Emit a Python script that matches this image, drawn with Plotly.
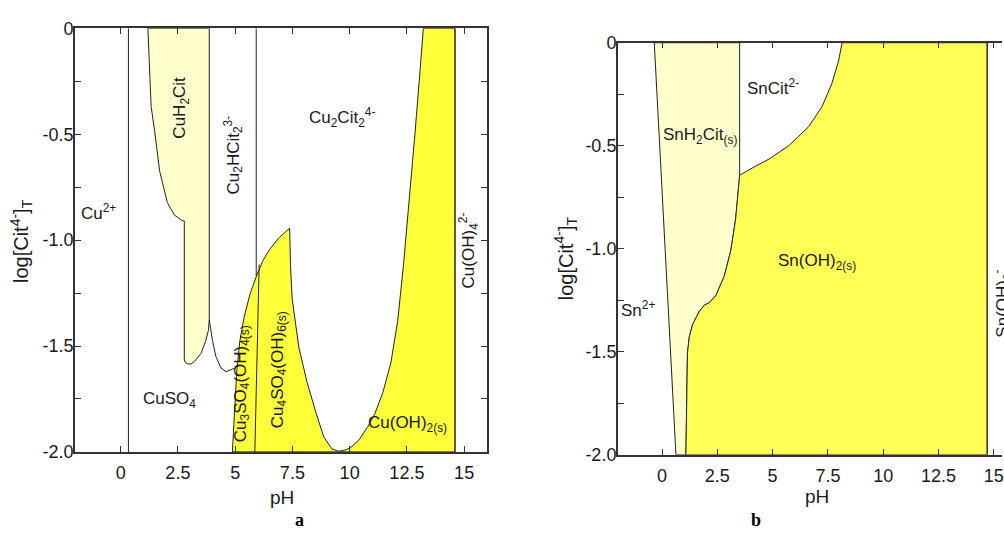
import plotly.graph_objects as go

# ---------------- Panel a : Cu - citrate - sulfate ----------------
a_cu_vline_ph = 0.34                      # Cu2+ / CuSO4 boundary
a_cuh2cit_left_ph = [1.19, 1.25, 1.33, 1.48, 1.70, 2.04, 2.35, 2.70, 2.78, 2.78]
a_cuh2cit_left_log = [0.0, -0.141, -0.368, -0.482, -0.673, -0.823, -0.882, -0.909, -0.909, -1.564]
a_cuh2cit_bottom_ph = [2.82, 2.92, 3.07, 3.22, 3.51, 3.72, 3.83, 3.87]
a_cuh2cit_bottom_log = [-1.577, -1.584, -1.585, -1.573, -1.535, -1.474, -1.427, -1.376]
a_cuh2cit_right_ph = 3.87
a_u_ph = [3.87, 4.01, 4.16, 4.38, 4.60, 4.81, 4.98, 5.10]
a_u_log = [-1.376, -1.474, -1.55, -1.603, -1.621, -1.614, -1.605, -1.588]
a_bump_left_ph = [4.88, 4.93, 5.00, 5.07, 5.20, 5.40, 5.65, 5.93, 6.20, 6.50, 6.90, 7.38]
a_bump_left_log = [-2.0, -1.88, -1.75, -1.62, -1.48, -1.36, -1.255, -1.17, -1.10, -1.045, -0.99, -0.944]
a_cuoh2_ph = [7.38, 7.42, 7.49, 7.78, 8.14, 8.51, 8.87, 9.23, 9.52, 9.85, 9.95, 10.05,
              10.40, 10.80, 11.10, 11.45, 11.80, 12.10, 12.35, 12.60, 12.85, 13.06, 13.22]
a_cuoh2_log = [-0.944, -1.126, -1.277, -1.505, -1.671, -1.808, -1.929, -1.986, -1.997, -1.99, -1.985, -1.978,
               -1.945, -1.88, -1.82, -1.72, -1.58, -1.38, -1.12, -0.82, -0.50, -0.22, 0.0]
a_cu2hcit_vline_ph = 5.92
a_cu2hcit_vline_log = [0.0, -1.17]
a_divider_ph = [6.05, 5.86]
a_divider_log = [-1.115, -2.0]
a_cuoh4_vline_ph = 14.6

# ---------------- Panel b : Sn - citrate ----------------
b_sn_left_ph = [-0.35, 0.63]
b_sn_left_log = [0.0, -2.0]
b_snoh2_ph = [1.08, 1.11, 1.13, 1.15, 1.23, 1.38, 1.68, 1.91, 2.13, 2.43, 2.81, 3.11, 3.33, 3.51]
b_snoh2_log = [-2.0, -1.788, -1.631, -1.508, -1.430, -1.368, -1.305, -1.274, -1.262, -1.228, -1.134, -1.009, -0.854, -0.643]
b_sncit_ph = [3.51, 4.16, 4.83, 5.73, 6.63, 7.22, 7.67, 7.98, 8.14]
b_sncit_log = [-0.643, -0.603, -0.565, -0.50, -0.407, -0.313, -0.201, -0.089, 0.0]
b_snh2cit_right_ph = 3.51
b_snoh3_vline_ph = 14.7

# axis ticks
x_tickvals = [0, 2.5, 5, 7.5, 10, 12.5, 15]
x_ticktext = ['0', '2.5', '5', '7.5', '10', '12.5', '15']
y_tickvals = [0, -0.25, -0.5, -0.75, -1.0, -1.25, -1.5, -1.75, -2.0]
y_ticktext = ['0', '', '-0.5', '', '-1.0', '', '-1.5', '', '-2.0']
YTOP, YBOT = 0.0, -2.0

LIGHT = '#FFFFCC'
YEL_A = '#FFFF3A'
YEL_B = '#FFFF55'
LINE = dict(color='#222222', width=1)
FONT = 'Liberation Sans, Arial, sans-serif'

fig = go.Figure()


def poly(xs, ys, fill, xa, ya):
    fig.add_trace(go.Scatter(x=xs, y=ys, mode='lines', fill='toself', fillcolor=fill,
                             line=LINE, xaxis=xa, yaxis=ya, hoverinfo='skip'))


def line(xs, ys, xa, ya):
    fig.add_trace(go.Scatter(x=xs, y=ys, mode='lines', line=LINE, xaxis=xa, yaxis=ya, hoverinfo='skip'))


# ---- panel a shapes
px = a_cuh2cit_left_ph + a_cuh2cit_bottom_ph + [a_cuh2cit_right_ph, a_cuh2cit_left_ph[0]]
py = a_cuh2cit_left_log + a_cuh2cit_bottom_log + [YTOP, YTOP]
poly(px, py, LIGHT, 'x', 'y')

px = a_bump_left_ph + a_cuoh2_ph[1:] + [a_cuoh4_vline_ph, a_cuoh4_vline_ph, a_bump_left_ph[0]]
py = a_bump_left_log + a_cuoh2_log[1:] + [YTOP, YBOT, YBOT]
poly(px, py, YEL_A, 'x', 'y')

line([a_cu_vline_ph, a_cu_vline_ph], [YTOP, YBOT], 'x', 'y')
line(a_u_ph, a_u_log, 'x', 'y')
line([a_cu2hcit_vline_ph, a_cu2hcit_vline_ph], a_cu2hcit_vline_log, 'x', 'y')
line(a_divider_ph, a_divider_log, 'x', 'y')
line([a_cuoh4_vline_ph, a_cuoh4_vline_ph], [YTOP, YBOT], 'x', 'y')

# ---- panel b shapes
px = b_sn_left_ph + b_snoh2_ph + [b_snh2cit_right_ph, b_sn_left_ph[0]]
py = b_sn_left_log + b_snoh2_log + [YTOP, YTOP]
poly(px, py, LIGHT, 'x2', 'y2')

px = b_snoh2_ph + b_sncit_ph[1:] + [b_snoh3_vline_ph, b_snoh3_vline_ph, b_snoh2_ph[0]]
py = b_snoh2_log + b_sncit_log[1:] + [YTOP, YBOT, YBOT]
poly(px, py, YEL_B, 'x2', 'y2')

line([b_snoh3_vline_ph, b_snoh3_vline_ph], [YTOP, YBOT], 'x2', 'y2')

axis_common = dict(showgrid=False, zeroline=False, showline=True, linecolor='#333333', linewidth=1.5,
                   ticks='inside', ticklen=6, tickwidth=1.2, tickcolor='#333333',
                   tickfont=dict(family=FONT, size=18, color='#1a1a1a'))

fig.update_layout(
    width=1004, height=538, margin=dict(l=0, r=0, t=0, b=0),
    paper_bgcolor='white', plot_bgcolor='white', showlegend=False,
    xaxis=dict(domain=[75 / 1004, 488 / 1004], range=[-2, 16], anchor='y', mirror='ticks',
               ticklabelstandoff=4,
               tickvals=x_tickvals, ticktext=x_ticktext, **axis_common),
    yaxis=dict(domain=[1 - 459 / 538, 1 - 19 / 538], range=[YBOT, YTOP], anchor='x', mirror='ticks',
               ticklabelstandoff=-4,
               tickvals=y_tickvals, ticktext=y_ticktext, **axis_common),
    xaxis2=dict(domain=[619 / 1004, 1.0], range=[-2, 15.37], anchor='y2', mirror='ticks',
                ticklabeloverflow='allow', ticklabelstandoff=4,
                tickvals=x_tickvals, ticktext=x_ticktext, **axis_common),
    yaxis2=dict(domain=[1 - 462 / 538, 1 - 34 / 538], range=[YBOT, YTOP], anchor='x2', mirror=False,
                ticklabelstandoff=-4,
                tickvals=y_tickvals, ticktext=y_ticktext, **axis_common),
)

ann = []


def label(text, x, y, xref, yref, angle=0, size=17, family=FONT, color='#1a1a1a'):
    ann.append(dict(text=text, x=x, y=y, xref=xref, yref=yref, showarrow=False, textangle=angle,
                    font=dict(family=family, size=size, color=color), xanchor='center', yanchor='middle'))


# panel a region labels
label('Cu<sup>2+</sup>', -0.95, -0.868, 'x', 'y')
label('CuH<sub>2</sub>Cit', 2.65, -0.373, 'x', 'y', angle=-90)
label('Cu<sub>2</sub>HCit<sub>2</sub><sup>3-</sup>', 4.91, -0.60, 'x', 'y', angle=-90)
label('Cu<sub>2</sub>Cit<sub>2</sub><sup>4-</sup>', 9.65, -0.423, 'x', 'y')
label('CuSO<sub>4</sub>', 2.13, -1.755, 'x', 'y')
label('Cu<sub>3</sub>SO<sub>4</sub>(OH)<sub>4</sub><sub>(s)</sub>', 5.30, -1.68, 'x', 'y', angle=-90)
label('Cu<sub>4</sub>SO<sub>4</sub>(OH)<sub>6</sub><sub>(s)</sub>', 6.91, -1.61, 'x', 'y', angle=-90)
label('Cu(OH)<sub>2(s)</sub>', 12.52, -1.868, 'x', 'y')
label('Cu(OH)<sub>4</sub><sup>2-</sup>', 15.2, -1.05, 'x', 'y', angle=-90)

# panel b region labels
label('Sn<sup>2+</sup>', -1.07, -1.294, 'x2', 'y2')
label('SnH<sub>2</sub>Cit<sub>(s)</sub>', 1.73, -0.453, 'x2', 'y2')
label('SnCit<sup>2-</sup>', 5.02, -0.215, 'x2', 'y2')
label('Sn(OH)<sub>2(s)</sub>', 7.0, -1.065, 'x2', 'y2')
label('Sn(OH)<sub>3</sub><sup>-</sup>', 1005 / 1004, 1 - 305 / 538, 'paper', 'paper', angle=-90)

# axis titles
label('log[Cit<sup>4-</sup>]<sub>T</sub>', 21 / 1004, 1 - 240 / 538, 'paper', 'paper', angle=-90, size=20)
label('log[Cit<sup>4-</sup>]<sub>T</sub>', 567 / 1004, 1 - 258 / 538, 'paper', 'paper', angle=-90, size=20)
label('pH', 283 / 1004, 1 - 506 / 538, 'paper', 'paper', size=19)
label('pH', 819 / 1004, 1 - 505 / 538, 'paper', 'paper', size=19)
label('<b>a</b>', 300 / 1004, 1 - 530 / 538, 'paper', 'paper', size=18,
      family='Liberation Serif, Times New Roman, serif', color='#000000')
label('<b>b</b>', 758 / 1004, 1 - 530 / 538, 'paper', 'paper', size=18,
      family='Liberation Serif, Times New Roman, serif', color='#000000')

fig.update_layout(annotations=ann)
fig.write_html('out.html')
